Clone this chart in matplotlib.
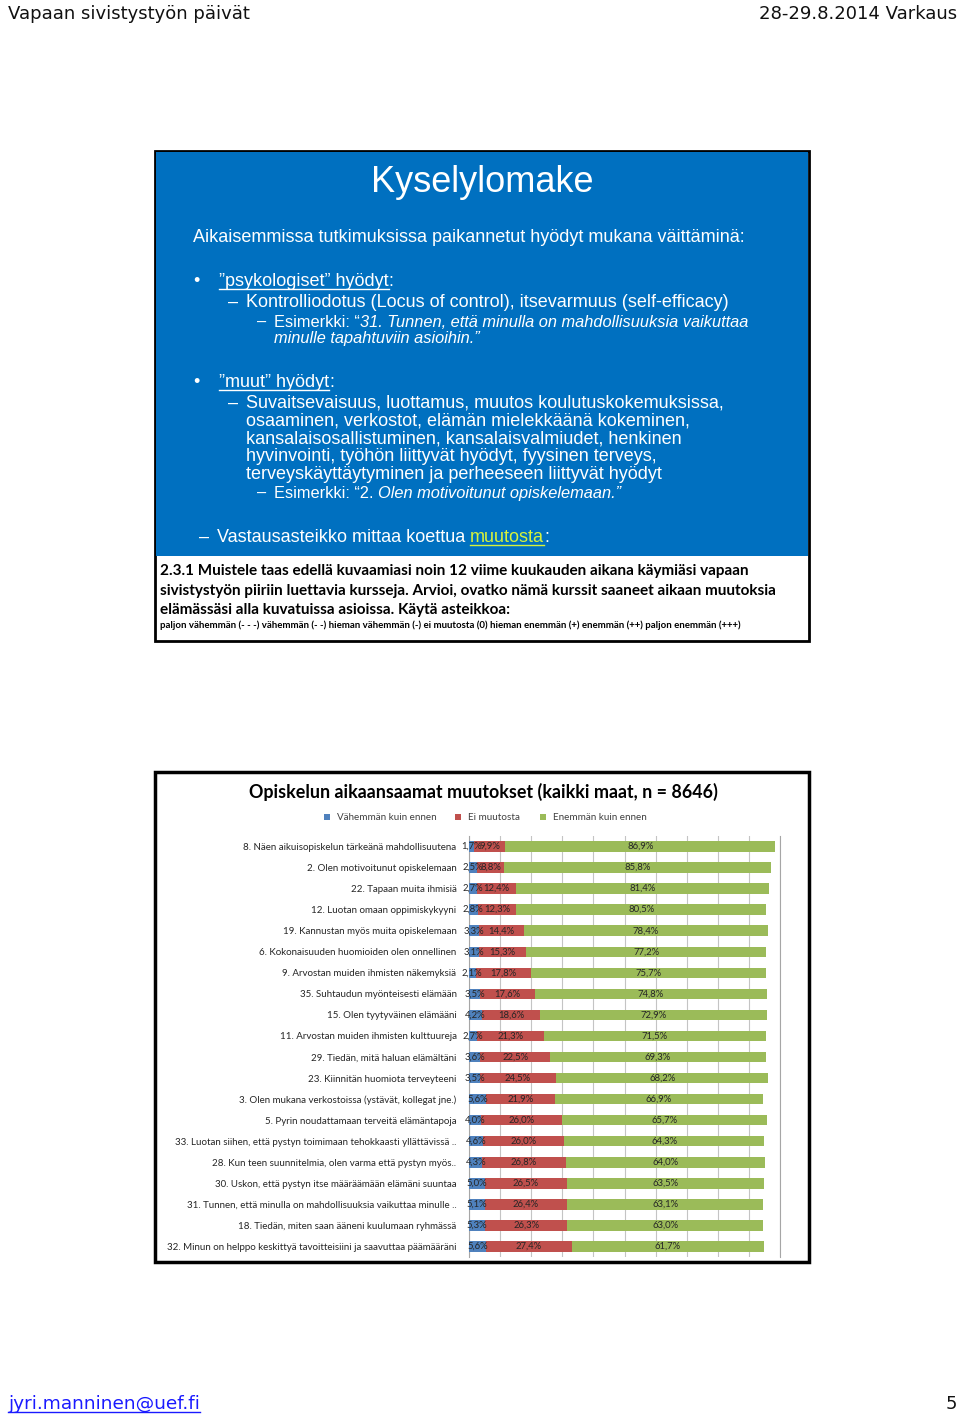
import matplotlib
matplotlib.use('Agg')
import matplotlib.pyplot as plt
from matplotlib.patches import Rectangle
from matplotlib.lines import Line2D

# chart data (percentages)
categories = [
    "8. Näen aikuisopiskelun tärkeänä mahdollisuutena",
    "2. Olen motivoitunut opiskelemaan",
    "22. Tapaan muita ihmisiä",
    "12. Luotan omaan oppimiskykyyni",
    "19. Kannustan myös muita opiskelemaan",
    "6. Kokonaisuuden huomioiden olen onnellinen",
    "9. Arvostan muiden ihmisten näkemyksiä",
    "35. Suhtaudun myönteisesti elämään",
    "15. Olen tyytyväinen elämääni",
    "11. Arvostan muiden ihmisten kulttuureja",
    "29. Tiedän, mitä haluan elämältäni",
    "23. Kiinnitän huomiota terveyteeni",
    "3. Olen mukana verkostoissa (ystävät, kollegat jne.)",
    "5. Pyrin noudattamaan terveitä elämäntapoja",
    "33. Luotan siihen, että pystyn toimimaan tehokkaasti yllättävissä ..",
    "28. Kun teen suunnitelmia, olen varma että pystyn myös..",
    "30. Uskon, että pystyn itse määräämään elämäni suuntaa",
    "31. Tunnen, että minulla on mahdollisuuksia vaikuttaa minulle ..",
    "18. Tiedän, miten saan ääneni kuulumaan ryhmässä",
    "32. Minun on helppo keskittyä tavoitteisiini ja saavuttaa päämääräni",
]
less = [1.7, 2.5, 2.7, 2.8, 3.3, 3.1, 2.1, 3.5, 4.2, 2.7, 3.6, 3.5, 5.6, 4.0, 4.6, 4.3, 5.0, 5.1, 5.3, 5.6]
same = [9.9, 8.8, 12.4, 12.3, 14.4, 15.3, 17.8, 17.6, 18.6, 21.3, 22.5, 24.5, 21.9, 26.0, 26.0, 26.8, 26.5, 26.4, 26.3, 27.4]
more = [86.9, 85.8, 81.4, 80.5, 78.4, 77.2, 75.7, 74.8, 72.9, 71.5, 69.3, 68.2, 66.9, 65.7, 64.3, 64.0, 63.5, 63.1, 63.0, 61.7]
series_names = ["Vähemmän kuin ennen", "Ei muutosta", "Enemmän kuin ennen"]
series_colors = ["#4F81BD", "#C0504D", "#9BBB59"]

SLIDE_FONT = "Liberation Sans"
CHART_FONT = "Lato"
HEAD_FONT = "DejaVu Sans"
BLUE = "#0070C0"

W, H = 960, 1421
fig = plt.figure(figsize=(W / 100, H / 100), dpi=100)
renderer = fig.canvas.get_renderer()


def fx(x):
    return x / W


def fy(y):
    return 1 - y / H


def box(x0, y0, x1, y1, **kw):
    fig.patches.append(Rectangle((fx(x0), fy(y1)), fx(x1) - fx(x0), fy(y0) - fy(y1),
                                 transform=fig.transFigure, zorder=-1, **kw))


def hline(x0, x1, y, color, lw=1.0):
    fig.lines.append(Line2D([fx(x0), fx(x1)], [fy(y), fy(y)],
                            transform=fig.transFigure, color=color, lw=lw))


def put(x, y, s, size, family=SLIDE_FONT, color="white", underline=False, **kw):
    """Place text at pixel x (left) / baseline y, return the pixel x where it ends."""
    t = fig.text(fx(x), fy(y), s, fontsize=size, family=family, color=color,
                 va="baseline", **kw)
    bb = t.get_window_extent(renderer)
    if underline:
        hline(bb.x0, bb.x1, y + 2.5, color, lw=1.0)
    return bb.x1


# page header / footer
put(8, 19, "Vapaan sivistystyön päivät", 13, family=HEAD_FONT, color="#111111")
fig.text(fx(957), fy(19), "28-29.8.2014 Varkaus", fontsize=13, family=HEAD_FONT,
         color="#111111", ha="right", va="baseline")
put(8, 1409, "jyri.manninen@uef.fi", 13.3, family=HEAD_FONT, color="#1a1aff", underline=True)
fig.text(fx(957), fy(1409), "5", fontsize=13, family=HEAD_FONT, color="#111111",
         ha="right", va="baseline")

# ---- upper slide ----
box(155, 151, 809, 641, facecolor="white", edgecolor="black", lw=2)
box(156, 152, 808, 556, facecolor=BLUE, edgecolor="none")

fig.text(fx(482), fy(192), "Kyselylomake", fontsize=26, family=SLIDE_FONT,
         color="white", ha="center", va="baseline")
put(193, 242, "Aikaisemmissa tutkimuksissa paikannetut hyödyt mukana väittäminä:", 13)

put(193, 286, "•", 13)
end = put(219, 286, "”psykologiset” hyödyt", 13, underline=True)
put(end, 286, ":", 13)
put(228, 307, "–", 13)
put(246, 307, "Kontrolliodotus (Locus of control), itsevarmuus (self-efficacy)", 13)
put(257, 327, "–", 11.8)
end = put(274, 327, "Esimerkki: “", 11.8)
put(end, 327, "31. Tunnen, että minulla on mahdollisuuksia vaikuttaa", 11.8, style="italic")
put(274, 343, "minulle tapahtuviin asioihin.”", 11.8, style="italic")

put(193, 387, "•", 13)
end = put(219, 387, "”muut” hyödyt", 13, underline=True)
put(end, 387, ":", 13)
put(228, 408, "–", 13)
muut_lines = [
    "Suvaitsevaisuus, luottamus, muutos koulutuskokemuksissa,",
    "osaaminen, verkostot, elämän mielekkäänä kokeminen,",
    "kansalaisosallistuminen, kansalaisvalmiudet, henkinen",
    "hyvinvointi, työhön liittyvät hyödyt, fyysinen terveys,",
    "terveyskäyttäytyminen ja perheeseen liittyvät hyödyt",
]
for i, line in enumerate(muut_lines):
    put(246, 408 + i * 17.7, line, 13)
put(257, 498, "–", 11.8)
end = put(274, 498, "Esimerkki: “2. ", 11.8)
put(end, 498, "Olen motivoitunut opiskelemaan.”", 11.8, style="italic")

put(199, 542, "–", 13)
end = put(217, 542, "Vastausasteikko mittaa koettua ", 13)
end = put(end, 542, "muutosta", 13, color="#D6F23C", underline=True)
put(end, 542, ":", 13)

question = [
    "2.3.1 Muistele taas edellä kuvaamiasi noin 12 viime kuukauden aikana käymiäsi vapaan",
    "sivistystyön piiriin luettavia kursseja. Arvioi, ovatko nämä kurssit saaneet aikaan muutoksia",
    "elämässäsi alla kuvatuissa asioissa. Käytä asteikkoa:",
]
for i, line in enumerate(question):
    put(160, 575 + i * 19.5, line, 11, family=CHART_FONT, color="black", weight="bold")
put(160, 628, "paljon vähemmän (- - -) vähemmän (- -) hieman vähemmän (-) ei muutosta (0) "
    "hieman enemmän (+) enemmän (++) paljon enemmän (+++)", 6.9, family=CHART_FONT,
    color="black", weight="bold")

# ---- chart slide ----
box(155, 772, 809, 1262, facecolor="white", edgecolor="black", lw=2.5)
fig.text(fx(483), fy(798), "Opiskelun aikaansaamat muutokset (kaikki maat, n = 8646)",
         fontsize=12.9, family=CHART_FONT, weight="bold", color="black",
         ha="center", va="baseline")

legend_x = [327, 458, 543]
for lx, name, col in zip(legend_x, series_names, series_colors):
    box(lx - 3, 814, lx + 3, 820, facecolor=col, edgecolor="none")
    put(lx + 10, 820, name, 7.1, family=CHART_FONT, color="#404040")

ax = fig.add_axes([fx(469), fy(1257), (780 - 469) / W, (1257 - 836) / H])
ax.set_zorder(5)
ax.patch.set_alpha(0)
rows = list(range(len(categories)))
left = [0.0] * len(categories)
for vals, col in zip([less, same, more], series_colors):
    ax.barh(rows, vals, left=left, height=0.5, color=col, zorder=3)
    for r, (l0, v) in enumerate(zip(left, vals)):
        ax.text(l0 + v / 2, r, f"{v:.1f}%".replace(".", ","), ha="center", va="center",
                fontsize=6.8, family=CHART_FONT, color="#262626", zorder=4)
    left = [a + b for a, b in zip(left, vals)]

ax.set_xlim(0, 100)
ax.set_ylim(len(categories) - 0.5, -0.5)
ax.set_xticks(range(0, 101, 10))
ax.set_xticklabels([])
ax.set_yticks(rows)
ax.set_yticklabels(categories, fontsize=7.0, family=CHART_FONT, color="#262626")
ax.tick_params(length=0)
ax.tick_params(axis="y", pad=9)
ax.xaxis.grid(True, color="#c4c4c4", lw=0.8, zorder=0)
for side in ["top", "bottom"]:
    ax.spines[side].set_visible(False)
ax.spines["left"].set_color("#a6a6a6")
ax.spines["right"].set_color("#a6a6a6")

fig.savefig("out.png", dpi=100)
